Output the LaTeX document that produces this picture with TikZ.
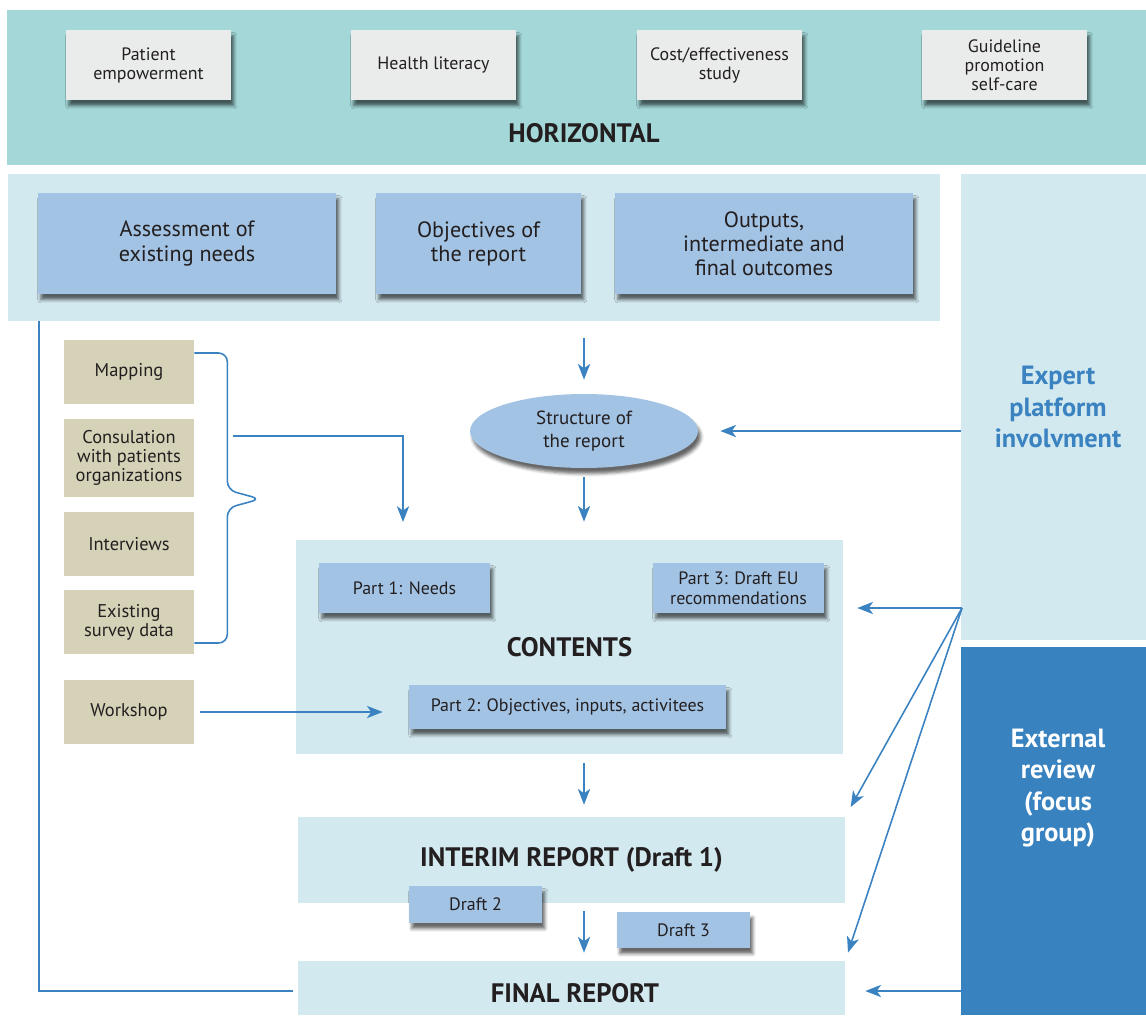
\documentclass[tikz,border=0pt]{standalone}
\usepackage{fontspec}
\setmainfont{PT Sans}
\usetikzlibrary{arrows.meta,shapes.geometric,shadows.blur}

\definecolor{horizteal}{HTML}{A3D7D8}
\definecolor{paleblue}{HTML}{D3E9F0}
\definecolor{boxgray}{HTML}{EAECEC}
\definecolor{boxblue}{HTML}{A2C3E4}
\definecolor{boxtan}{HTML}{D6D2B8}
\definecolor{linkblue}{HTML}{3A82C0}
\definecolor{revblue}{HTML}{3882C0}
\definecolor{inkgray}{HTML}{231F20}

\begin{document}
\begin{tikzpicture}[
    x=0.02cm, y=-0.02cm,
    every node/.style={text=inkgray, inner sep=2pt},
    shad/.style={blur shadow={shadow xshift=1.6pt, shadow yshift=-3.2pt,
        shadow blur radius=1.8pt, shadow opacity=60}},
    band/.style={fill=paleblue, inner sep=0pt},
    head/.style={font=\fontsize{15.2}{18}\selectfont\bfseries},
    side/.style={font=\fontsize{15}{17.9}\selectfont\bfseries, align=center},
    graybox/.style={fill=boxgray, shad, align=center, minimum width=3.3cm,
        minimum height=1.4cm, font=\fontsize{10.2}{10.8}\selectfont},
    planbox/.style={fill=boxblue, shad, align=center, minimum height=2.02cm,
        font=\fontsize{12.6}{13.8}\selectfont},
    srcbox/.style={fill=boxtan, align=center, minimum width=2.6cm,
        minimum height=1.28cm, font=\fontsize{10.5}{10.8}\selectfont},
    partbox/.style={fill=boxblue, shad, align=center,
        font=\fontsize{10.2}{11.2}\selectfont},
    conn/.style={draw=linkblue, line width=0.9pt},
    arr/.style={conn, -{Stealth[length=9pt, width=7pt, inset=2.5pt]}},
  ]
    \useasboundingbox (0,0) rectangle (1146,1015);

    %% --- background bands ---
    \node[band, fill=horizteal, minimum width=22.78cm, minimum height=3.1cm]
      (horiz) at (576.5,87.5) {};
    \node[head] (horizlbl) at (584,133) {HORIZONTAL};
    \node[band, minimum width=18.64cm, minimum height=2.94cm]
      (plan) at (474,247.5) {};
    \node[band, minimum width=3.7cm, minimum height=9.32cm]
      (expert) at (1053.5,407) {};
    \node[side, text=linkblue] (expertlbl) at (1058,407)
      {Expert\\platform\\involvment};
    \node[band, fill=revblue, minimum width=3.7cm, minimum height=7.36cm]
      (review) at (1053.5,831) {};
    \node[side, text=white] (reviewlbl) at (1058,788)
      {External\\review\\(focus\\group)};

    %% --- horizontal topics ---
    \node[graybox] (empow)   at (148.5,65)  {Patient\\empowerment};
    \node[graybox] (health)  at (433.5,65)  {Health literacy};
    \node[graybox] (costeff) at (719.5,65)  {Cost/effectiveness\\study};
    \node[graybox] (guide)   at (1004.5,65) {Guideline\\promotion\\self-care};

    %% --- planning row ---
    \node[planbox, minimum width=5.96cm] (assess) at (187,243.5)
      {Assessment of\\existing needs};
    \node[planbox, minimum width=4.1cm] (objec) at (478.5,243.5)
      {Objectives of\\the report};
    \node[planbox, minimum width=5.96cm] (outp) at (764,243.5)
      {Outputs,\\intermediate and\\final outcomes};

    %% --- sources (left column) ---
    \node[srcbox] (mapping) at (129,372) {Mapping};
    \node[srcbox, minimum height=1.56cm] (consult) at (129,458)
      {Consulation\\with patients\\organizations};
    \node[srcbox] (interv) at (129,544) {Interviews};
    \node[srcbox] (survey) at (129,622) {Existing\\survey data};
    \node[srcbox] (wshop)  at (129,712) {Workshop};

    %% --- structure of the report ---
    \node[ellipse, fill=boxblue, shad, align=center, minimum width=4.56cm,
      minimum height=1.48cm, font=\fontsize{10.8}{13}\selectfont]
      (struct) at (584,431) {Structure of\\the report};

    %% --- contents block ---
    \node[band, head, minimum width=10.94cm, minimum height=4.28cm]
      (contents) at (569.5,647) {CONTENTS};
    \node[partbox, minimum width=3.42cm, minimum height=1cm]
      (part1) at (404.5,588) {Part 1: Needs};
    \node[partbox, minimum width=3.42cm, minimum height=1cm]
      (part3) at (738.5,588) {Part 3: Draft EU\\recommendations};
    \node[partbox, minimum width=6.34cm, minimum height=0.88cm]
      (part2) at (567.5,707) {Part 2: Objectives, inputs, activitees};

    %% --- reports ---
    \node[band, head, minimum width=10.94cm, minimum height=1.72cm]
      (interim) at (571.5,860) {INTERIM REPORT (Draft 1)};
    \node[partbox, minimum width=2.66cm, minimum height=0.74cm]
      (draft2) at (475.5,904.5) {Draft 2};
    \node[band, minimum width=10.94cm, minimum height=1.08cm]
      (final) at (571.5,988) {};
    \node[head] (finallbl) at (575,993) {FINAL REPORT};
    \node[partbox, minimum width=2.66cm, minimum height=0.72cm]
      (draft3) at (683.5,930) {Draft 3};

    %% --- connectors ---
    \coordinate (bk)  at (233,436);
    \coordinate (cin) at (403,540);
    \coordinate (ex)  at (962,608);

    % brace round the sources
    \draw[conn, rounded corners=5pt] ([yshift=0.38cm]mapping.east)
      -- ++(33,0) -- ++(0,137) -- ++(33,9) -- ++(-33,9) -- ++(0,135)
      -- ([yshift=-0.42cm]survey.east);
    \draw[arr, shorten >=0.36cm] (bk) -| (cin);
    \draw[arr, shorten <=0.12cm, shorten >=0.52cm] (wshop.east) -- (wshop.east -| part2.west);

    % main flow
    \draw[arr, shorten <=0.34cm, shorten >=0.28cm] (plan.south -| struct) -- (struct.north);
    \draw[arr, shorten <=0.18cm, shorten >=0.36cm] (struct.south) -- (struct.south |- contents.north);
    \draw[arr, shorten <=0.18cm, shorten >=0.24cm] (contents.south -| struct) -- (interim.north -| struct);
    \draw[arr, shorten <=0.16cm, shorten >=0.16cm] (interim.south -| struct) -- (final.north -| struct);
    \draw[conn, shorten >=0.1cm] ([xshift=0.62cm]plan.south west) |- ([yshift=-0.06cm]final.west);

    % expert platform and external review
    \draw[arr, shorten >=0.44cm] (expert.west |- struct) -- (struct.east);
    \draw[arr, shorten >=0.28cm] (ex) -- (ex -| contents.east);
    \draw[arr, shorten >=0.22cm] (ex) -- (interim.north east);
    \draw[arr, shorten >=0.17cm] (ex) -- (final.north east);
    \draw[arr, shorten >=0.4cm] ([yshift=-0.06cm]review.west |- final) -- ([yshift=-0.06cm]final.east);
\end{tikzpicture}
\end{document}
